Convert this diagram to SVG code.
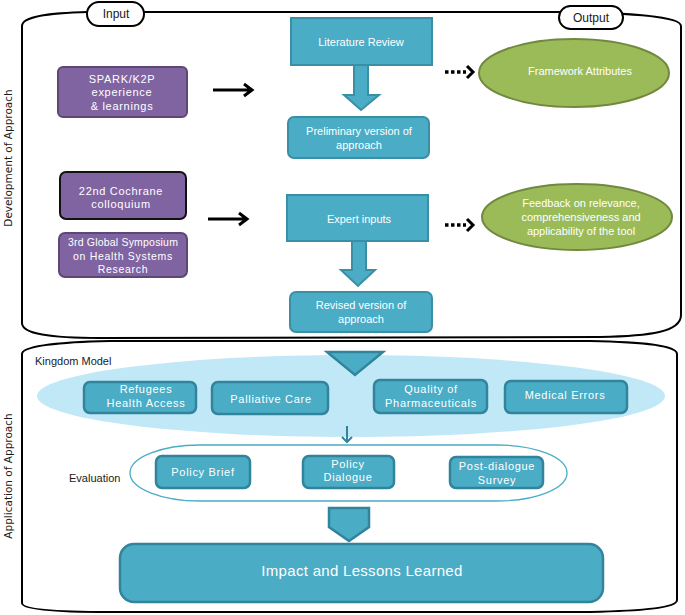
<svg xmlns="http://www.w3.org/2000/svg" width="685" height="615" viewBox="0 0 685 615">
<style>
.panel{fill:none;stroke:#000;stroke-width:2}
.pill{fill:#fff;stroke:#000;stroke-width:2}
.purple{fill:#8064A2;stroke:#5c4776;stroke-width:2}
.teal{fill:#4BACC6;stroke:#3a8fa6;stroke-width:2}
.tealdk{fill:#4BACC6;stroke:#31849B;stroke-width:2.5}
.green{fill:#9BBB59;stroke:#71893f;stroke-width:2}
.t{font-family:"Liberation Sans",Arial,sans-serif;font-size:11px;fill:#fff;text-anchor:middle}
.sp{letter-spacing:0.7px}
.dark{fill:#1a1a1a}
.vert{font-family:"DejaVu Sans",Verdana,sans-serif;font-size:10.5px;fill:#1a1a1a;text-anchor:middle}
.arr{fill:none;stroke:#000;stroke-width:3;stroke-linecap:butt}
.dot{fill:none;stroke:#000;stroke-width:3.5;stroke-dasharray:3.5 2.5}
</style>
<rect width="685" height="615" fill="#fff"/>
<g id="panel-development">
<path class="panel" d="M22,323 L22,26 C22,16 50,13 88,12 L560,12 C630,13 681,16 681,26 L681,315 C681,332 650,336 600,337 L100,338 C50,338 22,334 22,323 Z"/>
<text class="vert" transform="translate(12,158) rotate(-90)">Development of Approach</text>
</g>
<g id="panel-application">
<path class="panel" d="M22,603 L22,354 C22,346 60,342 110,341 L590,341 C640,342 677,345 677,354 L677,600 C677,608 640,611 590,612 L110,612 C60,612 22,610 22,603 Z"/>
<text class="vert" transform="translate(12,476) rotate(-90)">Application of Approach</text>
</g>
<g id="input-label"><rect class="pill" x="87" y="2" width="57" height="24" rx="12"/><text class="t dark" style="font-size:12px" x="116" y="18">Input</text></g>
<g id="output-label"><rect class="pill" x="559" y="6" width="64" height="23" rx="11.5"/><text class="t dark" style="font-size:12px" x="591" y="22">Output</text></g>

<g id="kingdom-model">
<ellipse cx="351" cy="396" rx="314" ry="41" fill="#c0e8f7"/>
<text class="t dark" x="35" y="365" style="text-anchor:start">Kingdom Model</text>
</g>

<g id="connectors">
<path class="arr" d="M213,90 L251,90 M244,84 L252,90 L244,96"/>
<path class="arr" d="M208,219 L246,219 M239,213 L247,219 L239,225"/>
<path class="dot" d="M445,72 L466,72"/>
<path class="arr" d="M467,66 L473,72 L467,78"/>
<path class="dot" d="M445,225 L466,225"/>
<path class="arr" d="M467,219 L473,225 L467,231"/>
<polygon class="teal" points="354,64 368,64 368,95 379,95 361,110 344,95 354,95"/>
<polygon class="teal" points="352,240 366,240 366,270 375,270 358,286 341,270 352,270"/>
<polygon class="tealdk" points="327,352 383,352 355,375"/>
<path fill="none" stroke="#31849B" stroke-width="2" d="M347,426 L347,442 M342,437 L347,442 L352,437"/>
<polygon class="tealdk" points="329,508 369,508 369,527 349,541 329,527"/>
</g>

<g id="spark"><rect class="purple" x="58" y="67" width="129" height="50" rx="5"/>
<text class="t sp" x="122" y="83">SPARK/K2P</text><text class="t sp" x="122" y="96">experience</text><text class="t sp" x="122" y="110">&amp; learnings</text></g>
<g id="literature-review"><rect class="teal" x="291" y="18" width="141" height="47"/><text class="t" x="361" y="46">Literature Review</text></g>
<g id="preliminary"><rect class="teal" x="288" y="117" width="141" height="41" rx="6"/><text class="t" x="359" y="135">Preliminary version of</text><text class="t" x="359" y="149">approach</text></g>
<g id="framework-attributes"><ellipse class="green" cx="574" cy="73" rx="95" ry="34"/><text class="t" x="580" y="75">Framework Attributes</text></g>

<g id="cochrane"><rect class="purple" style="stroke:#111" x="60" y="172" width="126" height="47" rx="6"/>
<text class="t sp" x="121" y="195">22nd Cochrane</text><text class="t sp" x="121" y="208">colloquium</text></g>
<g id="global-symposium"><rect class="purple" x="59" y="233" width="128" height="44" rx="6"/>
<text class="t" style="letter-spacing:0.2px;font-size:10.5px" x="123" y="246">3rd Global Symposium</text><text class="t sp" style="font-size:10.5px" x="123" y="260">on Health Systems</text><text class="t sp" style="font-size:10.5px" x="123" y="273">Research</text></g>
<g id="expert-inputs"><rect class="teal" x="287" y="195" width="141" height="46"/><text class="t" x="359" y="223">Expert inputs</text></g>
<g id="revised"><rect class="teal" x="290" y="292" width="142" height="40" rx="6"/><text class="t" x="361" y="309">Revised version of</text><text class="t" x="361" y="323">approach</text></g>
<g id="feedback"><ellipse class="green" cx="577" cy="217" rx="95" ry="33"/>
<text class="t" x="581" y="207">Feedback on relevance,</text><text class="t" x="581" y="221">comprehensiveness and</text><text class="t" x="581" y="235">applicability of the tool</text></g>

<g id="refugees"><rect class="tealdk" x="84" y="382" width="112" height="31" rx="6"/><text class="t sp" x="146" y="393">Refugees</text><text class="t sp" x="146" y="407">Health Access</text></g>
<g id="palliative"><rect class="tealdk" x="212" y="382" width="116" height="32" rx="6"/><text class="t sp" x="271" y="403">Palliative Care</text></g>
<g id="quality"><rect class="tealdk" x="374" y="380" width="113" height="33" rx="6"/><text class="t sp" x="431" y="393">Quality of</text><text class="t sp" x="431" y="407">Pharmaceuticals</text></g>
<g id="medical-errors"><rect class="tealdk" x="505" y="381" width="122" height="32" rx="6"/><text class="t sp" x="565" y="399">Medical Errors</text></g>

<g id="evaluation">
<rect x="130" y="445" width="437" height="56" rx="70" ry="28" fill="none" stroke="#4BACC6" stroke-width="1.3"/>
<text class="t dark" x="69" y="482" style="text-anchor:start">Evaluation</text>
</g>
<g id="policy-brief"><rect class="tealdk" x="156" y="456" width="94" height="32" rx="6"/><text class="t sp" x="203" y="476">Policy Brief</text></g>
<g id="policy-dialogue"><rect class="tealdk" x="303" y="456" width="91" height="32" rx="6"/><text class="t sp" x="348" y="468">Policy</text><text class="t sp" x="348" y="481">Dialogue</text></g>
<g id="post-dialogue"><rect class="tealdk" x="450" y="457" width="93" height="31" rx="6"/><text class="t sp" x="497" y="470">Post-dialogue</text><text class="t sp" x="497" y="484">Survey</text></g>

<g id="impact"><rect class="tealdk" x="120" y="544" width="483" height="58" rx="14"/><text class="t" style="font-size:15px;letter-spacing:0.3px" x="362" y="576">Impact and Lessons Learned</text></g>
</svg>
